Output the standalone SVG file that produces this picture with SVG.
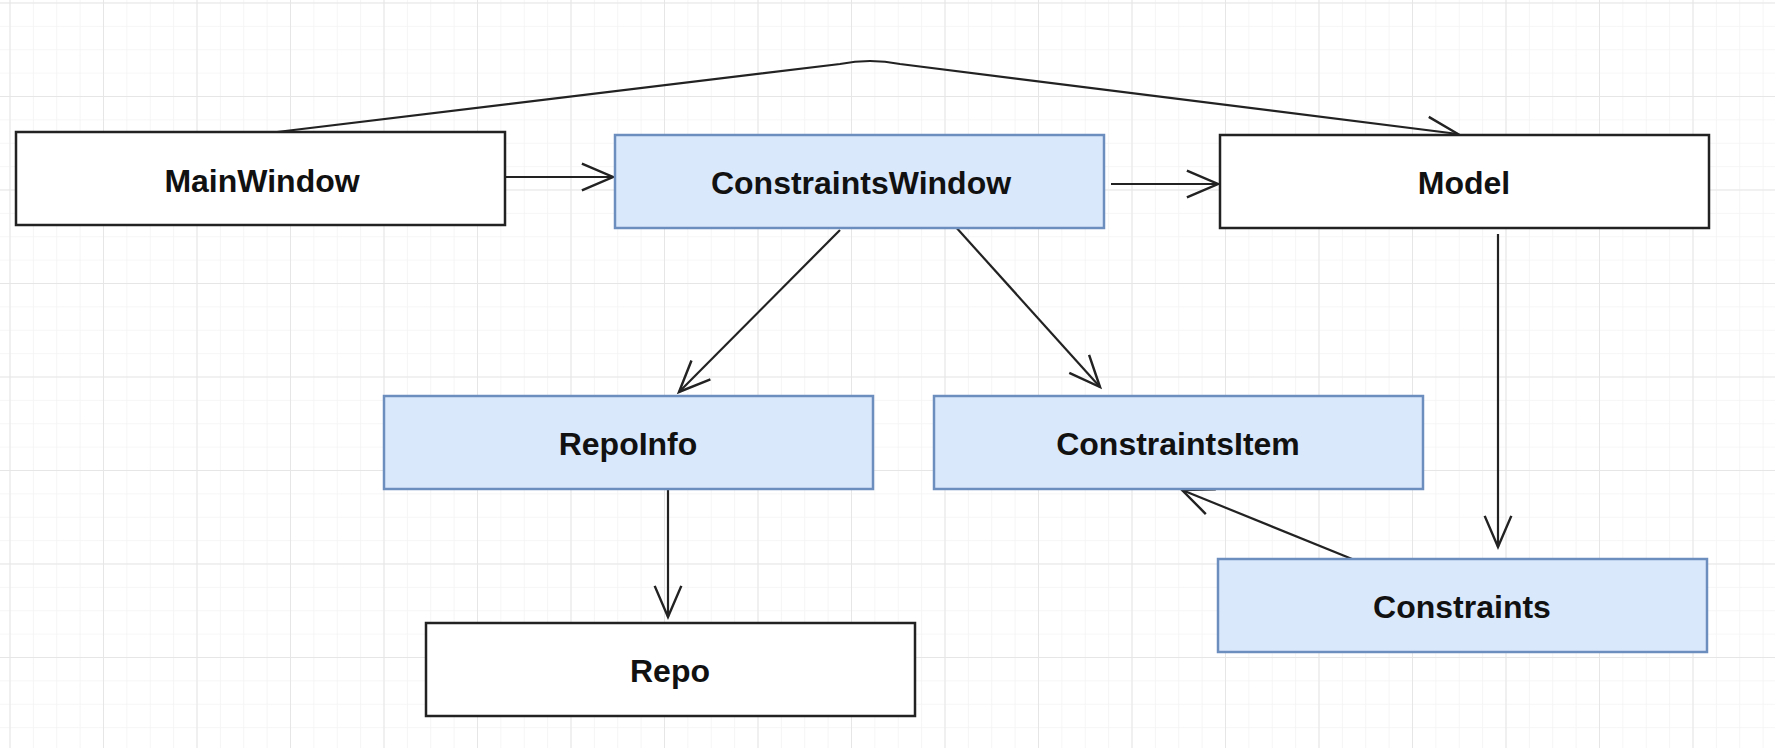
<svg xmlns="http://www.w3.org/2000/svg" width="1775" height="748" viewBox="0 0 1775 748">
<style>
.box{stroke-width:2.5}
.plain{fill:#ffffff;stroke:#222222}
.blue{fill:#dae8fc;stroke:#6c8ebf}
.lbl{font-family:"Liberation Sans",Arial,sans-serif;font-weight:bold;font-size:32px;fill:#111111;text-anchor:middle}
.edge{fill:none;stroke:#222222;stroke-width:2.2}
</style>
<defs>
<pattern id="minor" x="9.5" y="2.5" width="23.375" height="23.375" patternUnits="userSpaceOnUse">
<path d="M0,0 H23.375 M0,0 V23.375" fill="none" stroke="#f3f3f3" stroke-width="1.5"/>
</pattern>
<pattern id="major" x="9.5" y="2.5" width="93.5" height="93.5" patternUnits="userSpaceOnUse">
<path d="M0,0 H93.5 M0,0 V93.5" fill="none" stroke="#e6e6e6" stroke-width="2"/>
</pattern>
<marker id="arr" markerUnits="userSpaceOnUse" markerWidth="40" markerHeight="40" viewBox="-32 -16 36 32" refX="0" refY="0" orient="auto">
<path d="M-28,-12 L0,0 L-28,12" fill="none" stroke="#222222" stroke-width="2.2"/>
</marker>
</defs>
<rect width="1775" height="748" fill="#ffffff"/>
<rect width="1775" height="748" fill="url(#minor)"/>
<rect width="1775" height="748" fill="url(#major)"/>

<g id="connectors">
<path class="edge" d="M505,177 H613" marker-end="url(#arr)"/>
<path class="edge" d="M1111,184 H1218" marker-end="url(#arr)"/>
<path class="edge" d="M277,132 L840,64 Q870,58 900,64 L1458,134" marker-end="url(#arr)"/>
<path class="edge" d="M840,230 L679,392" marker-end="url(#arr)"/>
<path class="edge" d="M954,225 L1100,387" marker-end="url(#arr)"/>
<path class="edge" d="M668,490 V617" marker-end="url(#arr)"/>
<path class="edge" d="M1498,234 V547" marker-end="url(#arr)"/>
<path class="edge" d="M1357,561 L1182,490" marker-end="url(#arr)"/>
</g>

<g id="MainWindow">
<rect class="box plain" x="16" y="132" width="489" height="93"/>
<text class="lbl" x="262" y="192">MainWindow</text>
</g>
<g id="ConstraintsWindow">
<rect class="box blue" x="615" y="135" width="489" height="93"/>
<text class="lbl" x="861" y="194">ConstraintsWindow</text>
</g>
<g id="Model">
<rect class="box plain" x="1220" y="135" width="489" height="93"/>
<text class="lbl" x="1464" y="194">Model</text>
</g>
<g id="RepoInfo">
<rect class="box blue" x="384" y="396" width="489" height="93"/>
<text class="lbl" x="628" y="455">RepoInfo</text>
</g>
<g id="ConstraintsItem">
<rect class="box blue" x="934" y="396" width="489" height="93"/>
<text class="lbl" x="1178" y="455">ConstraintsItem</text>
</g>
<g id="Constraints">
<rect class="box blue" x="1218" y="559" width="489" height="93"/>
<text class="lbl" x="1462" y="618">Constraints</text>
</g>
<g id="Repo">
<rect class="box plain" x="426" y="623" width="489" height="93"/>
<text class="lbl" x="670" y="682">Repo</text>
</g>
</svg>
